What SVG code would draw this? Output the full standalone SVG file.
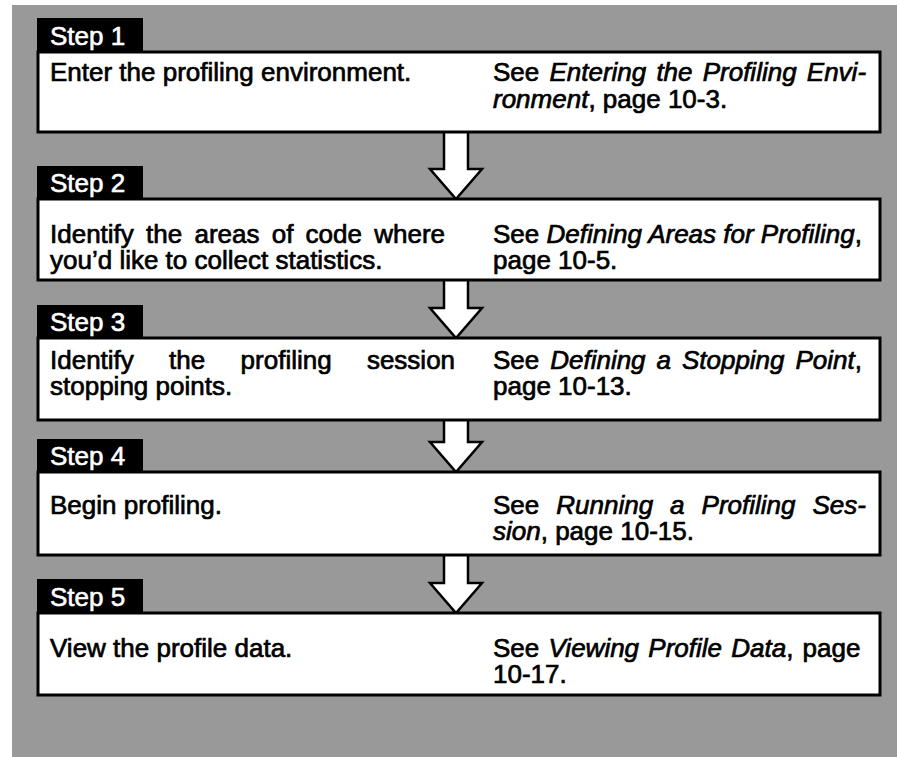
<svg xmlns="http://www.w3.org/2000/svg" width="899" height="757" viewBox="0 0 899 757">
<style>
.box{fill:#fff;stroke:#000;stroke-width:3}
.tab{fill:#000}
.tabt{font-family:"Liberation Sans",Arial,sans-serif;font-size:26px;fill:#fff;stroke:#fff;stroke-width:0.6}
.t{font-family:"Liberation Sans",Arial,sans-serif;font-size:26px;fill:#000;stroke:#000;stroke-width:0.7}
.i{font-style:italic}
.arrow{fill:#fff;stroke:#000;stroke-width:2.5;stroke-linejoin:miter}
</style>
<rect x="0" y="0" width="899" height="757" fill="#fff"/>
<rect x="12" y="5" width="885" height="752" fill="#999999"/>

<g id="connectors">
<path class="arrow" d="M444,132 V169 H430 L456,199 L482,169 H468 V132"/>
<path class="arrow" d="M444,280 V308 H430 L456,338 L482,308 H468 V280"/>
<path class="arrow" d="M444,420 V442 H430 L456,472 L482,442 H468 V420"/>
<path class="arrow" d="M444,555 V583 H430 L456,613 L482,583 H468 V555"/>
</g>

<g id="step1">
<rect class="box" x="38" y="52" width="842" height="80"/>
<rect class="tab" x="37" y="18" width="106" height="35"/>
<text class="tabt" x="50" y="45">Step 1</text>
<text class="t" x="50" y="81">Enter the profiling environment.</text>
<text class="t" y="81"><tspan x="493">See</tspan><tspan class="i" x="549.4">Entering</tspan><tspan class="i" x="656.4">the</tspan><tspan class="i" x="702.7">Profiling</tspan><tspan class="i" x="806.8">Envi-</tspan></text>
<text class="t" x="493" y="108"><tspan class="i">ronment</tspan>, page 10-3.</text>
</g>

<g id="step2">
<rect class="box" x="38" y="199" width="842" height="81"/>
<rect class="tab" x="37" y="166" width="106" height="34"/>
<text class="tabt" x="50" y="192">Step 2</text>
<text class="t" x="50" y="243" word-spacing="5">Identify the areas of code where</text>
<text class="t" x="50" y="269">you’d like to collect statistics.</text>
<text class="t" x="493" y="243">See <tspan class="i">Defining Areas for Profiling</tspan>,</text>
<text class="t" x="493" y="269">page 10-5.</text>
</g>

<g id="step3">
<rect class="box" x="38" y="338" width="842" height="82"/>
<rect class="tab" x="37" y="305" width="106" height="34"/>
<text class="tabt" x="50" y="331">Step 3</text>
<text class="t" y="369"><tspan x="50">Identify</tspan><tspan x="169.1">the</tspan><tspan x="240.6">profiling</tspan><tspan x="366.9">session</tspan></text>
<text class="t" x="50" y="395">stopping points.</text>
<text class="t" y="369"><tspan x="493">See</tspan><tspan class="i" x="550.2">Defining</tspan><tspan class="i" x="656.5">a</tspan><tspan class="i" x="681.9">Stopping</tspan><tspan class="i" x="795.5">Point</tspan>,</text>
<text class="t" x="493" y="395">page 10-13.</text>
</g>

<g id="step4">
<rect class="box" x="38" y="472" width="842" height="83"/>
<rect class="tab" x="37" y="439" width="106" height="34"/>
<text class="tabt" x="50" y="465">Step 4</text>
<text class="t" x="50" y="514">Begin profiling.</text>
<text class="t" y="514"><tspan x="493">See</tspan><tspan class="i" x="556.3">Running</tspan><tspan class="i" x="670.1">a</tspan><tspan class="i" x="701.6">Profiling</tspan><tspan class="i" x="812.5">Ses-</tspan></text>
<text class="t" x="493" y="540"><tspan class="i">sion</tspan>, page 10-15.</text>
</g>

<g id="step5">
<rect class="box" x="38" y="613" width="842" height="82"/>
<rect class="tab" x="37" y="579" width="106" height="35"/>
<text class="tabt" x="50" y="606">Step 5</text>
<text class="t" x="50" y="657">View the profile data.</text>
<text class="t" x="493" y="657" word-spacing="2">See <tspan class="i">Viewing Profile Data</tspan>, page</text>
<text class="t" x="493" y="683">10-17.</text>
</g>
</svg>
